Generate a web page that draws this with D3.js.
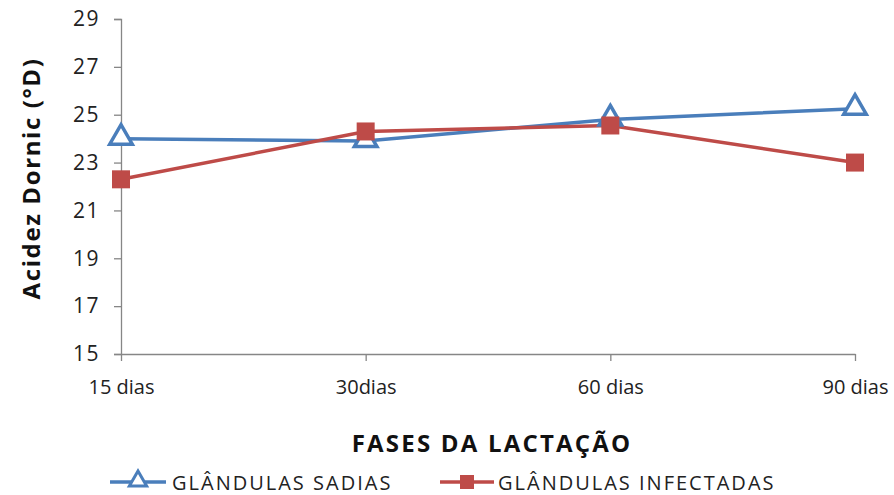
<!DOCTYPE html>
<html>
<head>
<meta charset="utf-8">
<script src="https://cdn.jsdelivr.net/npm/d3@7"></script>
<style>
  body { margin: 0; background: #fff; }
  text { font-family: "Open Sans", sans-serif; }
</style>
</head>
<body>
<div id="chart"></div>
<script>
var svgWidth = 894;
var svgHeight = 495;

var categories = ["15 dias", "30dias", "60 dias", "90 dias"];
var sadias = [24.0, 23.9, 24.8, 25.25];
var infectadas = [22.3, 24.3, 24.55, 23.0];
var yTicks = [15, 17, 19, 21, 23, 25, 27, 29];
var seriesNames = ["GLÂNDULAS SADIAS", "GLÂNDULAS INFECTADAS"];

var blue = "#4a7ebb";
var red = "#be4b48";
var axisColor = "#868686";

var margin = { top: 19, left: 121, right: 39, bottom: 141 };
var chartWidth = svgWidth - margin.left - margin.right;
var chartHeight = svgHeight - margin.top - margin.bottom;

var svg = d3.select("#chart").append("svg")
  .attr("width", svgWidth)
  .attr("height", svgHeight);

var g = svg.append("g")
  .attr("transform", `translate(${margin.left}, ${margin.top})`);

var x = d3.scalePoint().domain(categories).range([0, chartWidth]);
var y = d3.scaleLinear().domain([15, 29]).range([chartHeight, 0]);

// y axis
var yAxis = g.append("g")
  .call(d3.axisLeft(y).tickValues(yTicks).tickSize(7).tickPadding(14));
yAxis.select(".domain").attr("stroke", axisColor).attr("stroke-width", 1.3);
yAxis.selectAll(".tick line").attr("stroke", axisColor).attr("stroke-width", 1.3);
yAxis.selectAll(".tick text")
  .attr("font-size", 21)
  .attr("fill", "#222")
  .style("letter-spacing", "1.5px")
  .style("font-family", "'Open Sans', sans-serif");

// x axis
var xAxis = g.append("g")
  .attr("transform", `translate(0, ${chartHeight})`)
  .call(d3.axisBottom(x).tickSize(7).tickPadding(19).tickSizeOuter(0));
xAxis.select(".domain").attr("stroke", axisColor).attr("stroke-width", 1.3);
xAxis.selectAll(".tick line").attr("stroke", axisColor).attr("stroke-width", 1.3);
xAxis.selectAll(".tick text")
  .attr("font-size", 20)
  .attr("fill", "#222")
  .style("font-family", "'Open Sans', sans-serif");

var line = d3.line()
  .x(function(d, i) { return x(categories[i]); })
  .y(function(d) { return y(d); });

g.append("path").datum(sadias)
  .attr("d", line).attr("fill", "none")
  .attr("stroke", blue).attr("stroke-width", 3.5);

g.append("path").datum(infectadas)
  .attr("d", line).attr("fill", "none")
  .attr("stroke", red).attr("stroke-width", 3.5);

var tri = d3.symbol().type(d3.symbolTriangle).size(220);

g.selectAll(".tri").data(sadias).enter().append("path")
  .attr("transform", function(d, i) { return `translate(${x(categories[i])}, ${y(d) - 1})`; })
  .attr("d", tri)
  .attr("fill", "#fff")
  .attr("stroke", blue)
  .attr("stroke-width", 3.5)
  .attr("stroke-linejoin", "miter");

g.selectAll(".sq").data(infectadas).enter().append("rect")
  .attr("x", function(d, i) { return x(categories[i]) - 9; })
  .attr("y", function(d) { return y(d) - 9; })
  .attr("width", 18).attr("height", 18)
  .attr("fill", red);

// axis titles
svg.append("text")
  .attr("transform", `translate(40, ${margin.top + chartHeight / 2 - 8}) rotate(-90)`)
  .attr("text-anchor", "middle")
  .attr("font-size", 24)
  .attr("font-weight", "bold")
  .attr("fill", "#111")
  .style("letter-spacing", "1.6px")
  .text("Acidez Dornic (°D)");

svg.append("text")
  .attr("x", 492).attr("y", 452)
  .attr("text-anchor", "middle")
  .attr("font-size", 24)
  .attr("font-weight", "bold")
  .attr("fill", "#111")
  .style("letter-spacing", "2.2px")
  .text("FASES DA LACTAÇÃO");

// legend
var legendY = 482;
var leg1 = svg.append("g").attr("transform", `translate(110, ${legendY})`);
leg1.append("line").attr("x1", 0).attr("x2", 56).attr("y1", 0).attr("y2", 0)
  .attr("stroke", blue).attr("stroke-width", 3.5);
leg1.append("path").attr("transform", "translate(28, -1)")
  .attr("d", d3.symbol().type(d3.symbolTriangle).size(130))
  .attr("fill", "#fff").attr("stroke", blue).attr("stroke-width", 3);
leg1.append("text").attr("x", 62).attr("y", 8)
  .attr("font-size", 20).attr("fill", "#222")
  .style("letter-spacing", "2px").text(seriesNames[0]);

var leg2 = svg.append("g").attr("transform", `translate(440, ${legendY})`);
leg2.append("line").attr("x1", 0).attr("x2", 54).attr("y1", 0).attr("y2", 0)
  .attr("stroke", red).attr("stroke-width", 3.5);
leg2.append("rect").attr("x", 20).attr("y", -7).attr("width", 14).attr("height", 14)
  .attr("fill", red);
leg2.append("text").attr("x", 58).attr("y", 8)
  .attr("font-size", 20).attr("fill", "#222")
  .style("letter-spacing", "2px").text(seriesNames[1]);
</script>
</body>
</html>
